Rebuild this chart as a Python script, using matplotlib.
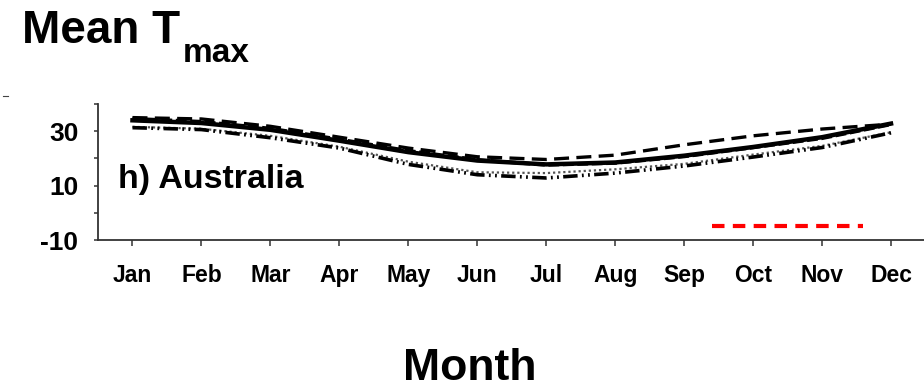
import matplotlib
matplotlib.use("Agg")
import matplotlib.pyplot as plt
from matplotlib.lines import Line2D

plt.rcParams['font.family'] = ['Liberation Sans', 'DejaVu Sans']
plt.rcParams['font.weight'] = 'bold'
plt.rcParams['axes.unicode_minus'] = False

# Monthly mean maximum temperature (deg C), Australia
months = ["Jan", "Feb", "Mar", "Apr", "May", "Jun",
          "Jul", "Aug", "Sep", "Oct", "Nov", "Dec"]
month_idx = list(range(1, 13))

series_long_dash = [35.0, 34.5, 31.8, 27.8, 23.8, 20.6, 19.6, 21.2, 25.0, 28.3, 30.8, 32.6]
series_solid     = [34.0, 33.0, 30.5, 26.5, 22.3, 19.2, 17.8, 18.5, 21.0, 24.2, 27.8, 32.8]
series_dash      = [34.6, 33.5, 31.0, 27.0, 22.8, 19.5, 17.6, 18.3, 20.7, 24.0, 27.4, 32.5]
series_dotted    = [31.6, 30.9, 28.3, 24.3, 18.8, 14.9, 14.6, 16.0, 18.0, 21.4, 24.6, 29.6]
series_dash_dot  = [31.3, 30.6, 27.6, 23.8, 17.8, 14.0, 12.8, 14.6, 17.2, 20.5, 24.0, 29.4]

# Red marker segment (months span and level)
red_x = [9.4, 11.6]
red_y = [-5.0, -5.0]

y_major = [-10, 10, 30]
y_minor = [0, 20, 40]

W, H = 924, 391
fig = plt.figure(figsize=(W / 100, H / 100), dpi=100)
ax = fig.add_axes([98 / W, 1 - 240 / H, 827.5 / W, 136 / H])

ax.plot(month_idx, series_dotted, color="#555555", lw=1.6, linestyle=(0, (1, 1.3)))
ax.plot(month_idx, series_dash_dot, color="black", lw=2.6,
        linestyle=(0, (4, 1.2, 0.5, 1.2, 0.5, 1.2)))
ax.plot(month_idx, series_solid, color="black", lw=3.2, linestyle="-")
ax.plot(month_idx, series_dash, color="black", lw=2.6, linestyle=(0, (3, 1)))
ax.plot(month_idx, series_long_dash, color="black", lw=2.4, linestyle=(0, (4.5, 2.2)))

ax.plot(red_x, red_y, color="#ff0000", lw=3.0, linestyle=(0, (3, 2)), solid_capstyle="butt")

ax.set_xlim(0.5, 12.5)
ax.set_ylim(-10, 40)
ax.set_xticks(month_idx)
ax.set_xticklabels(months)
ax.set_yticks(y_major)
ax.set_yticks(y_minor, minor=True)

for s in ("top", "right"):
    ax.spines[s].set_visible(False)
for s in ("left", "bottom"):
    ax.spines[s].set_color("#333333")
    ax.spines[s].set_linewidth(1.3)

ax.tick_params(axis="x", which="major", direction="out", length=4.5, width=1.1,
               color="#333333", labelsize=16.5, pad=13)
ax.tick_params(axis="y", which="both", direction="out", length=3.2, width=1.1,
               color="#333333", labelsize=19, pad=11)
for lab in ax.get_xticklabels() + ax.get_yticklabels():
    lab.set_fontweight("bold")

fig.text(118 / W, 1 - 188 / H, "h) Australia", fontsize=24.5, fontweight="bold",
         ha="left", va="baseline")

fig.text(22 / W, 1 - 43 / H, "Mean T", fontsize=33, fontweight="bold",
         ha="left", va="baseline")
fig.text(183 / W, 1 - 62 / H, "max", fontsize=24, fontweight="bold",
         ha="left", va="baseline")

fig.text(470 / W, 1 - 380 / H, "Month", fontsize=32, fontweight="bold",
         ha="center", va="baseline")

fig.add_artist(Line2D([3 / W, 8 / W], [1 - 96 / H, 1 - 96 / H],
                      transform=fig.transFigure, color="#444444", lw=0.8))

fig.savefig("out.png", dpi=100)
